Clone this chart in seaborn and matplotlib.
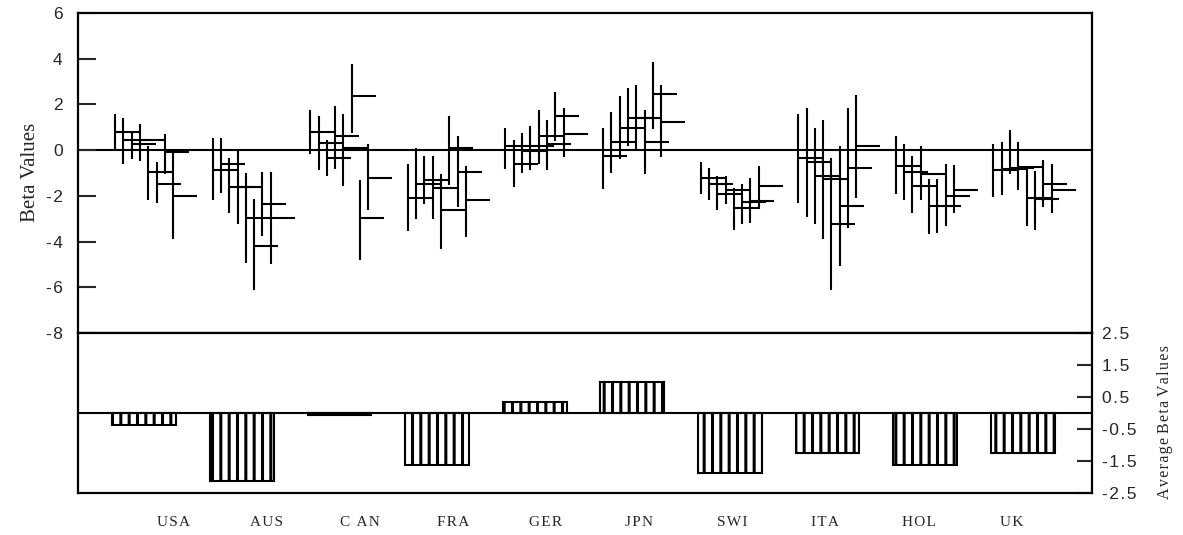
import numpy as np
import pandas as pd
import matplotlib
matplotlib.use("Agg")
import matplotlib.pyplot as plt
import seaborn as sns

# countries on the x axis
countries = ["USA", "AUS", "C AN", "FRA", "GER", "JPN", "SWI", "ITA", "HOL", "UK"]

# beta estimates, 8 series per country: upper bound, lower bound, point value
beta_high = [
    [1.60, 1.41, 0.76, 1.15, 0.20, -0.50, 0.72, -0.07],
    [0.54, 0.54, -0.33, 0.00, -1.02, -2.15, -0.94, -0.94],
    [1.75, 1.48, 0.44, 1.92, 1.56, 3.77, -1.31, 0.28],
    [-0.60, 0.10, -0.26, -0.26, -1.03, 1.48, 0.61, -0.70],
    [0.98, 0.44, 0.73, 1.05, 1.75, 1.31, 2.55, 1.85],
    [0.98, 1.68, 2.39, 2.72, 2.83, 1.75, 3.84, 2.83],
    [-0.52, -0.77, -1.14, -1.14, -1.67, -1.50, -1.20, -0.70],
    [1.60, 1.85, 0.98, 1.31, -0.35, 0.17, 1.85, 2.43],
    [0.61, 0.28, -0.25, 0.20, -1.28, -1.28, -0.59, -0.67],
    [0.28, 0.37, 0.90, 0.37, -0.70, -0.92, -0.41, -0.59],
]
beta_low = [
    [0.00, -0.62, -0.38, -0.48, -2.20, -2.30, -1.06, -3.87],
    [-2.20, -1.86, -2.73, -3.24, -4.92, -6.13, -3.75, -5.00],
    [-0.19, -0.89, -1.13, -0.81, -1.57, 0.76, -4.80, -2.63],
    [-3.54, -3.00, -2.37, -3.00, -4.31, -1.53, -2.49, -3.78],
    [-0.81, -1.60, -0.99, -0.87, -0.62, -0.87, 0.39, -0.29],
    [-1.69, -0.99, -0.38, 0.17, 0.00, -1.06, 0.93, -0.29],
    [-1.93, -2.20, -2.63, -2.37, -3.50, -3.24, -3.17, -2.59],
    [-2.30, -2.91, -3.24, -3.87, -6.13, -5.07, -3.42, -2.11],
    [-1.93, -2.20, -2.73, -2.20, -3.68, -3.61, -3.34, -2.73],
    [-2.03, -1.96, -1.06, -1.76, -3.34, -3.50, -2.47, -2.73],
]
beta_point = [
    [0.79, 0.44, 0.26, 0.44, -0.96, -1.48, -0.07, -2.00],
    [-0.87, -0.61, -1.60, -1.60, -2.97, -4.19, -2.36, -2.97],
    [0.79, 0.32, -0.35, 0.61, 0.09, 2.36, -2.98, -1.22],
    [-2.11, -1.50, -1.31, -1.67, -2.62, 0.09, -0.96, -2.18],
    [0.17, -0.62, -0.04, 0.17, 0.61, 0.25, 1.48, 0.72],
    [-0.26, 0.35, 0.95, 1.40, 1.40, 0.35, 2.45, 1.22],
    [-1.21, -1.47, -1.90, -1.75, -2.55, -2.27, -2.23, -1.57],
    [-0.36, -0.51, -1.13, -1.28, -3.24, -2.44, -0.79, 0.17],
    [-0.70, -0.94, -1.57, -1.03, -2.44, -2.44, -2.00, -1.75],
    [-0.87, -0.81, -0.77, -0.73, -2.11, -2.15, -1.47, -1.75],
]

# average beta per country (lower panel)
avg_beta = [-0.39, -2.14, -0.07, -1.64, 0.33, 0.95, -1.90, -1.25, -1.64, -1.25]

left_ticks = [-8, -6, -4, -2, 0, 2, 4, 6]
right_ticks = [-2.5, -1.5, -0.5, 0.5, 1.5, 2.5]

sns.set_style("white")
plt.rcParams["font.family"] = ["Liberation Sans", "DejaVu Sans"]
plt.rcParams["axes.unicode_minus"] = False
plt.rcParams["hatch.linewidth"] = 2.2
plt.rcParams["hatch.color"] = "black"

serif = ["Liberation Serif", "DejaVu Serif"]
hair = "\u200a"

# long table of the high/low/point values
rows = []
for c, name in enumerate(countries):
    for s in range(8):
        rows.append({"country": name, "idx": c, "series": s,
                     "high": beta_high[c][s], "low": beta_low[c][s],
                     "point": beta_point[c][s]})
df = pd.DataFrame(rows)
df["x"] = df["idx"] - 0.30 + 0.085 * df["series"]

fig = plt.figure(figsize=(11.83, 5.35), dpi=100)
ax_top = fig.add_axes([0.0659, 0.3776, 0.8572, 0.5981])
ax_bot = fig.add_axes([0.0659, 0.0794, 0.8572, 0.2982])

xlim = (-0.68, 9.71)
tick_len = 0.246
lw = 1.5

# upper panel: vertical range with a point tick to the right
ax_top.vlines(df["x"], df["low"], df["high"], color="black", linewidth=lw)
ax_top.hlines(df["point"], df["x"], df["x"] + tick_len, color="black", linewidth=lw)
ax_top.axhline(0, color="black", linewidth=lw, zorder=0)
ax_top.set_xlim(*xlim)
ax_top.set_ylim(-8, 6)
ax_top.set_yticks(left_ticks)
ax_top.set_yticklabels([hair.join(str(t)) for t in left_ticks])
ax_top.tick_params(axis="y", direction="in", length=13, width=1.5, pad=11,
                   labelsize=12.5, left=True, right=False)
ax_top.set_xticks([])

# lower panel: hatched average bars
sns.barplot(x=countries, y=avg_beta, ax=ax_bot, color="white", edgecolor="black",
            linewidth=1.5, width=0.655, hatch="||", saturation=1)
ax_bot.axhline(0, color="black", linewidth=lw, zorder=5)
ax_bot.set_xlim(*xlim)
ax_bot.set_ylim(-2.5, 2.5)
ax_bot.yaxis.tick_right()
ax_bot.set_yticks(right_ticks)
ax_bot.set_yticklabels([hair.join(f"{t:.1f}") for t in right_ticks])
ax_bot.tick_params(axis="y", direction="in", length=11, width=1.5, pad=7,
                   labelsize=12.5, left=False, right=True)
label_x = [0.30 + 0.954 * i for i in range(len(countries))]
ax_bot.set_xticks(label_x)
ax_bot.set_xticklabels([hair.join(c) for c in countries], family=serif, fontsize=11)
ax_bot.tick_params(axis="x", length=0, pad=17)
ax_bot.set_xlabel("")
ax_bot.set_ylabel("")

for ax in (ax_top, ax_bot):
    for sp in ax.spines.values():
        sp.set_visible(True)
        sp.set_linewidth(1.6)
        sp.set_color("black")

fig.text(0.0254, 0.678, "Beta Values", rotation=90, ha="center", va="center",
         family=serif, fontsize=15)
fig.text(0.9848, 0.212, " ".join(hair.join(w) for w in ["Average", "Beta", "Values"]),
         rotation=90, ha="center", va="center", family=serif, fontsize=11.5)

fig.savefig("out.png", dpi=100)
